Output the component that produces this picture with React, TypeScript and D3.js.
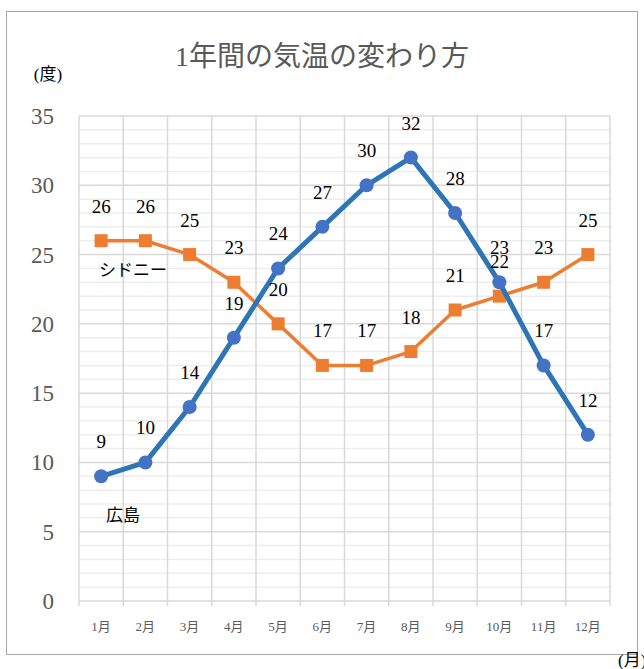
import React from "react";
import * as d3 from "d3";

const months = ["1月","2月","3月","4月","5月","6月","7月","8月","9月","10月","11月","12月"];
const hiroshima = [9,10,14,19,24,27,30,32,28,23,17,12];
const sydney = [26,26,25,23,20,17,17,18,21,22,23,25];
const yTicks = [0,5,10,15,20,25,30,35];
const minorTicks = d3.range(0, 36, 1);

const W = 644, H = 669;
const left = 79, right = 610, top = 116, bottom = 601;
const FONT = "'Liberation Serif', 'Noto Sans CJK JP', serif";

export default function App() {
  const x = d3.scaleBand<string>().domain(months).range([left, right]);
  const y = d3.scaleLinear().domain([0, 35]).range([bottom, top]);
  const cx = (m: string) => (x(m) as number) + x.bandwidth() / 2;
  const line = d3.line<number>().x((_, i) => cx(months[i])).y((d) => y(d));
  const bounds = months.map((m) => x(m) as number).concat([right]);

  return (
    <svg width={W} height={H} style={{ position: "absolute", left: 0, top: 0, background: "#fff" }}>
      <rect x={6.5} y={11.5} width={631} height={643} fill="#fff" stroke="#a6a6a6" strokeWidth={1} />
      <text x={322} y={66} textAnchor="middle" fontSize={28} fill="#595959" fontFamily={FONT}>1年間の気温の変わり方</text>
      <text x={48} y={80} textAnchor="middle" fontSize={17} fill="#000" fontFamily={FONT}>(度)</text>
      {minorTicks.filter((t) => t % 5 !== 0).map((t) => (
        <line key={"m" + t} x1={left} x2={right} y1={y(t)} y2={y(t)} stroke="#ededed" strokeWidth={1.5} />
      ))}
      {bounds.map((b, i) => (
        <line key={"v" + i} x1={b} x2={b} y1={top} y2={bottom + 5} stroke="#d9d9d9" strokeWidth={1.5} />
      ))}
      {yTicks.map((t) => (
        <line key={"g" + t} x1={left} x2={right} y1={y(t)} y2={y(t)} stroke="#d9d9d9" strokeWidth={1.5} />
      ))}
      {yTicks.map((t) => (
        <text key={"yt" + t} x={54} y={y(t) + 8} textAnchor="end" fontSize={23} fill="#595959" fontFamily={FONT}>{t}</text>
      ))}
      {months.map((m) => (
        <text key={"xt" + m} x={cx(m)} y={631} textAnchor="middle" fontSize={13} fill="#595959" fontFamily={FONT}>{m}</text>
      ))}
      <path d={line(sydney) as string} fill="none" stroke="#ed7d31" strokeWidth={3.5} strokeLinejoin="round" />
      {sydney.map((v, i) => (
        <rect key={"s" + i} x={cx(months[i]) - 6.5} y={y(v) - 6.5} width={13} height={13} fill="#ed7d31" />
      ))}
      <path d={line(hiroshima) as string} fill="none" stroke="#2e75b6" strokeWidth={5} strokeLinejoin="round" />
      {hiroshima.map((v, i) => (
        <circle key={"h" + i} cx={cx(months[i])} cy={y(v)} r={7} fill="#4472c4" />
      ))}
      {sydney.map((v, i) => (
        <text key={"sl" + i} x={cx(months[i])} y={y(v) - 28} textAnchor="middle" fontSize={19} fill="#000" fontFamily={FONT}>{v}</text>
      ))}
      {hiroshima.map((v, i) => (
        <text key={"hl" + i} x={cx(months[i])} y={y(v) - 28} textAnchor="middle" fontSize={19} fill="#000" fontFamily={FONT}>{v}</text>
      ))}
      <text x={133} y={276} textAnchor="middle" fontSize={17} fill="#000" fontFamily={FONT}>シドニー</text>
      <text x={123} y={521} textAnchor="middle" fontSize={17} fill="#000" fontFamily={FONT}>広島</text>
      <text x={618} y={666} fontSize={17} fill="#000" fontFamily={FONT}>(月)</text>
    </svg>
  );
}
